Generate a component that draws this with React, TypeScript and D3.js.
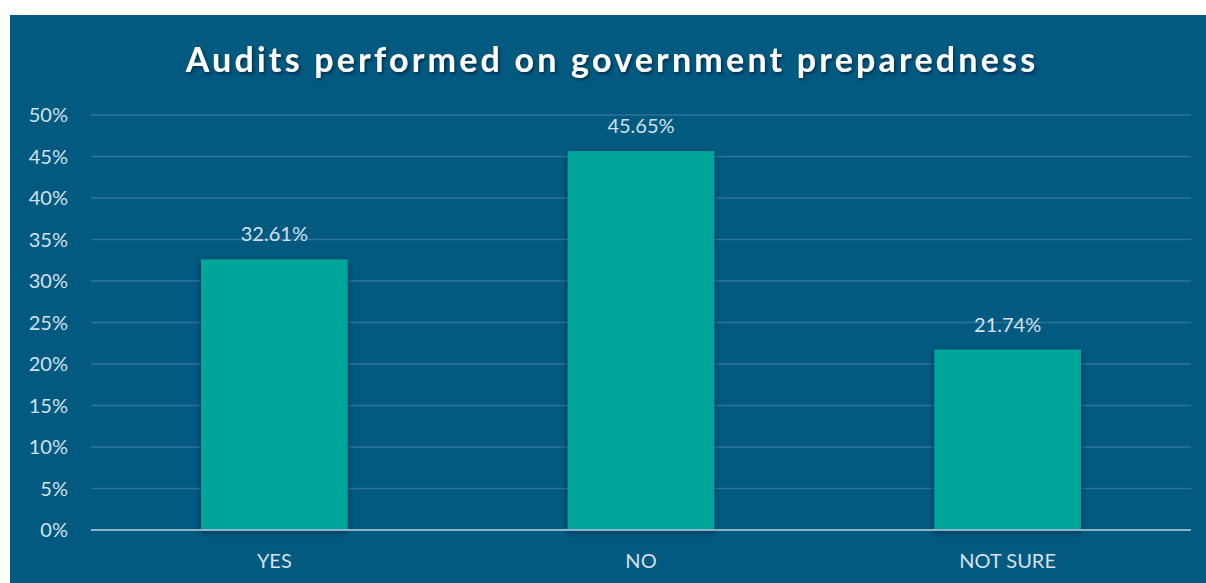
import React from "react";
import * as d3 from "d3";

const categories = ["YES", "NO", "NOT SURE"];
const values = [32.61, 45.65, 21.74];
const yTicks = [0, 5, 10, 15, 20, 25, 30, 35, 40, 45, 50];
const title = "Audits performed on government preparedness";

export default function App() {
  const W = 1206, H = 583;
  const left = 91, right = 1191, top = 115, bottom = 530;
  const x = d3.scaleBand<string>().domain(categories).range([left, right]).paddingInner(0).paddingOuter(0);
  const y = d3.scaleLinear().domain([0, 50]).range([bottom, top]);
  const bw = x.bandwidth() * 0.4;
  const font = "Lato, 'Open Sans', sans-serif";
  return (
    <svg width={W} height={H} style={{ position: "absolute", left: 0, top: 0 }}>
      <defs>
        <filter id="sh" x="-20%" y="-20%" width="140%" height="140%">
          <feDropShadow dx="0" dy="2" stdDeviation="3" floodColor="#00152a" floodOpacity="0.55" />
        </filter>
        <filter id="tsh" x="-5%" y="-30%" width="110%" height="160%">
          <feDropShadow dx="1.5" dy="2" stdDeviation="1.5" floodColor="#001a30" floodOpacity="0.7" />
        </filter>
      </defs>
      <rect x={10} y={15} width={W - 10} height={H - 15} fill="#025A81" />
      <text x={612} y={72} textAnchor="middle" fill="#ffffff" fontFamily={font} fontWeight={700} fontSize={34} letterSpacing={3.2} filter="url(#tsh)">{title}</text>
      {yTicks.map(t => (
        <g key={t}>
          {t > 0 && <line x1={left} x2={right} y1={y(t)} y2={y(t)} stroke="#2f7399" strokeWidth={1.5} />}
          <text x={68} y={y(t)} dy="0.35em" textAnchor="end" fill="#d5e0e8" fontFamily={font} fontSize={20}>{t}%</text>
        </g>
      ))}
      {categories.map((c, i) => {
        const cx = (x(c) as number) + x.bandwidth() / 2;
        return (
          <g key={c}>
            <rect x={cx - bw / 2} y={y(values[i])} width={bw} height={bottom - y(values[i])} fill="#00A59A" filter="url(#sh)" />
            <text x={cx} y={y(values[i]) - 18} textAnchor="middle" fill="#d5e0e8" fontFamily={font} fontSize={20}>{values[i].toFixed(2)}%</text>
            <text x={cx} y={561} dy="0.35em" textAnchor="middle" fill="#d5e0e8" fontFamily={font} fontSize={20}>{c}</text>
          </g>
        );
      })}
      <line x1={left} x2={right} y1={bottom} y2={bottom} stroke="#8db3c8" strokeWidth={2} />
    </svg>
  );
}
